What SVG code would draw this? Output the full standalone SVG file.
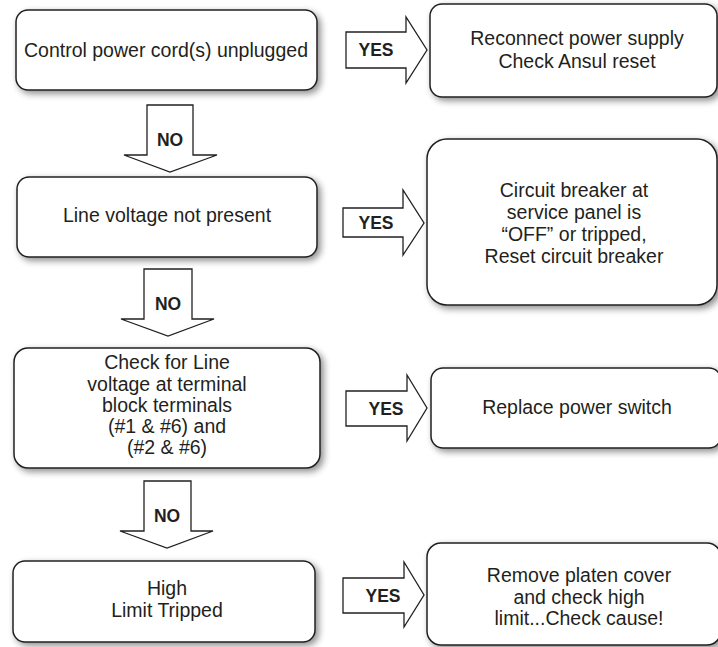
<svg xmlns="http://www.w3.org/2000/svg" width="718" height="647" viewBox="0 0 718 647">
<style>
.box{fill:#fff;stroke:#231f20;stroke-width:1.5;filter:url(#sh)}
.arr{fill:#fff;stroke:#231f20;stroke-width:1.3;stroke-linejoin:miter}
.t{font-family:"Liberation Sans",Arial,sans-serif;font-size:19.5px;fill:#231f20;text-anchor:middle}
.lb{font-family:"Liberation Sans",Arial,sans-serif;font-size:17.5px;font-weight:bold;fill:#231f20;text-anchor:middle}
</style>
<defs>
<filter id="sh" x="-10%" y="-20%" width="125%" height="150%">
<feGaussianBlur in="SourceAlpha" stdDeviation="3.5"/>
<feOffset dx="3" dy="3" result="b"/>
<feComponentTransfer><feFuncA type="linear" slope="0.45"/></feComponentTransfer>
<feMerge><feMergeNode/><feMergeNode in="SourceGraphic"/></feMerge>
</filter>
</defs>
<rect width="718" height="647" fill="#fff"/>
<g id="connectors">
<g id="yes1"><polygon class="arr" points="346,32 406,32 406,17 427,50 406,83 406,68 346,68"/><text class="lb" x="376" y="56">YES</text></g>
<g id="yes2"><polygon class="arr" points="343,208 403,208 403,190 424,223 403,255 403,237 343,237"/><text class="lb" x="376" y="229">YES</text></g>
<g id="yes3"><polygon class="arr" points="346,391 407,391 407,375 427,408 407,441 407,426 346,426"/><text class="lb" x="386" y="415">YES</text></g>
<g id="yes4"><polygon class="arr" points="343,578 404,578 404,562 424,595 404,627 404,613 343,613"/><text class="lb" x="383" y="602">YES</text></g>
<g id="no1"><polygon class="arr" points="147,105 193,105 193,155 217,155 170,172 124,155 147,155"/><text class="lb" x="170" y="146">NO</text></g>
<g id="no2"><polygon class="arr" points="144,269 192,269 192,319 214,319 168,336 121,319 144,319"/><text class="lb" x="168" y="310">NO</text></g>
<g id="no3"><polygon class="arr" points="144,481 191,481 191,531 213,531 167,548 120,531 144,531"/><text class="lb" x="167" y="522">NO</text></g>
</g>
<g id="n1"><rect class="box" x="16" y="10" width="301" height="80" rx="12"/><text class="t" x="166" y="57">Control power cord(s) unplugged</text></g>
<g id="n2"><rect class="box" x="17" y="177" width="300" height="80" rx="12"/><text class="t" x="167" y="222">Line voltage not present</text></g>
<g id="n3"><rect class="box" x="14" y="348" width="306" height="120" rx="14"/>
<text class="t" x="167" y="369">Check for Line</text>
<text class="t" x="167" y="390.5">voltage at terminal</text>
<text class="t" x="167" y="412">block terminals</text>
<text class="t" x="167" y="433">(#1 &amp; #6) and</text>
<text class="t" x="167" y="454">(#2 &amp; #6)</text></g>
<g id="n4"><rect class="box" x="13" y="561" width="302" height="81" rx="12"/>
<text class="t" x="167" y="595">High</text>
<text class="t" x="167" y="617">Limit Tripped</text></g>
<g id="r1"><rect class="box" x="430" y="4" width="287" height="93" rx="12"/>
<text class="t" x="577" y="45">Reconnect power supply</text>
<text class="t" x="577" y="68">Check Ansul reset</text></g>
<g id="r2"><rect class="box" x="427" y="139" width="290" height="166" rx="20"/>
<text class="t" x="574" y="197">Circuit breaker at</text>
<text class="t" x="574" y="219">service panel is</text>
<text class="t" x="574" y="241">“OFF” or tripped,</text>
<text class="t" x="574" y="263">Reset circuit breaker</text></g>
<g id="r3"><rect class="box" x="431" y="368" width="290" height="80" rx="12"/>
<text class="t" x="577" y="414">Replace power switch</text></g>
<g id="r4"><rect class="box" x="427" y="543" width="294" height="102" rx="14"/>
<text class="t" x="579" y="582">Remove platen cover</text>
<text class="t" x="579" y="603.5">and check high</text>
<text class="t" x="579" y="625">limit...Check cause!</text></g>
</svg>
